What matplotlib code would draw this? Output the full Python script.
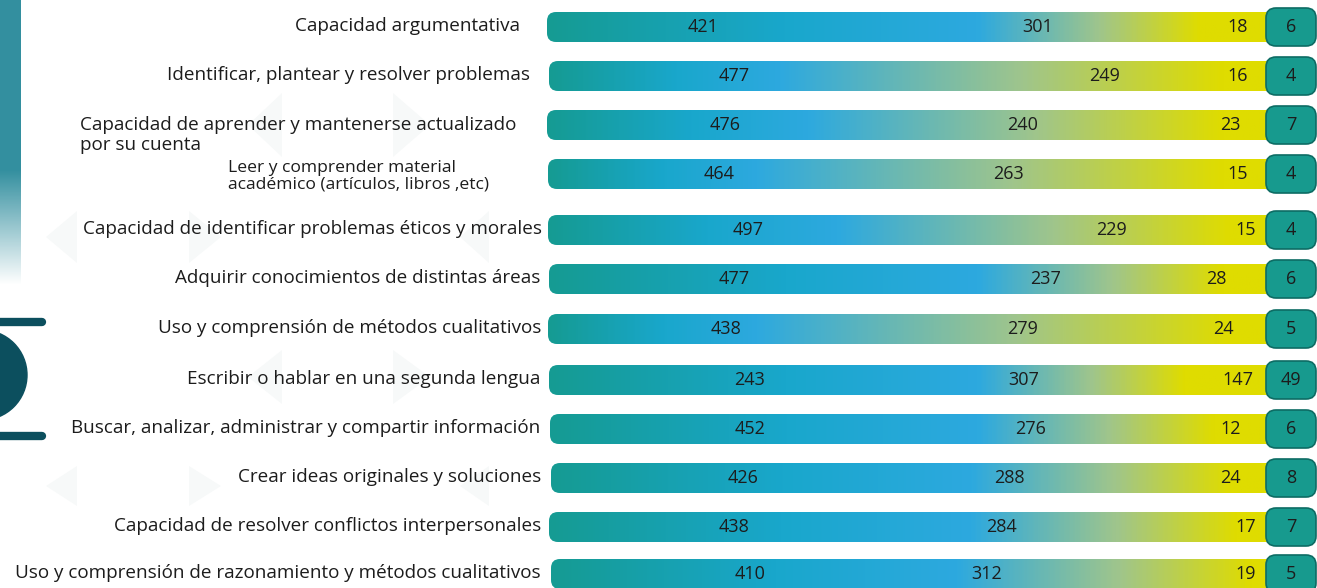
import numpy as np
import matplotlib
matplotlib.use('Agg')
from matplotlib import pyplot as plt
from matplotlib.patches import FancyBboxPatch, Circle, Polygon
from matplotlib.colors import LinearSegmentedColormap, to_rgb

plt.rcParams['font.family'] = ['Open Sans', 'DejaVu Sans']

# data
skills = ['Capacidad argumentativa',
          'Identificar, plantear y resolver problemas',
          'Capacidad de aprender y mantenerse actualizado\npor su cuenta',
          'Leer y comprender material\nacadémico (artículos, libros ,etc)',
          'Capacidad de identificar problemas éticos y morales',
          'Adquirir conocimientos de distintas áreas',
          'Uso y comprensión de métodos cualitativos',
          'Escribir o hablar en una segunda lengua',
          'Buscar, analizar, administrar y compartir información',
          'Crear ideas originales y soluciones',
          'Capacidad de resolver conflictos interpersonales',
          'Uso y comprensión de razonamiento y métodos cualitativos']
level_a = [421, 477, 476, 464, 497, 477, 438, 243, 452, 426, 438, 410]
level_b = [301, 249, 240, 263, 229, 237, 279, 307, 276, 288, 284, 312]
level_c = [18, 16, 23, 15, 15, 28, 24, 147, 12, 24, 17, 19]
level_d = [6, 4, 7, 4, 4, 6, 5, 49, 6, 8, 7, 5]

# layout (pixels)
row_y = [27, 76, 125, 174, 230, 279, 329, 380, 429, 478, 527, 574]
bar_x0 = [547, 549, 547, 548, 548, 549, 548, 549, 550, 551, 549, 551]
bar_x1 = 1290
bar_h = 30
box_x0, box_x1, box_h = 1266, 1316, 38
# where the gradient is bluest / turns yellow, as fraction of the bar
blue_stop = [0.58, 0.31, 0.35, 0.28, 0.39, 0.58, 0.28, 0.58, 0.58, 0.57, 0.57, 0.55]
yellow_stop = [0.88, 0.91, 0.91, 0.91, 0.92, 0.91, 0.92, 0.86, 0.90, 0.92, 0.93, 0.95]
# label positions as fraction of the bar
pos_a = [0.21, 0.25, 0.24, 0.23, 0.27, 0.25, 0.24, 0.27, 0.27, 0.26, 0.25, 0.27]
pos_b = [0.66, 0.75, 0.64, 0.62, 0.76, 0.67, 0.64, 0.64, 0.65, 0.62, 0.61, 0.59]
pos_c = [0.93, 0.93, 0.92, 0.93, 0.94, 0.90, 0.91, 0.93, 0.92, 0.92, 0.94, 0.94]
label_right = [520, 530, 541, 541, 542, 540, 541, 540, 540, 541, 541, 541]

teal = '#159b93'
cyan = '#19a7cc'
blue = '#2da9df'
green = '#9fc58c'
yellow = '#dfdc00'
ink = '#1c1c1c'
dark = '#0c4f5e'

fig = plt.figure(figsize=(13.17, 5.88), dpi=100)
ax = fig.add_axes([0, 0, 1, 1])
ax.set_xlim(0, 1317)
ax.set_ylim(588, 0)
ax.axis('off')

# faint background triangles
def triangle(x0, x1, y0, y1, left=True):
    ym = (y0 + y1) / 2
    if left:
        pts = [(x1, y0), (x1, y1), (x0, ym)]
    else:
        pts = [(x0, y0), (x0, y1), (x1, ym)]
    ax.add_patch(Polygon(pts, closed=True, facecolor='#f7f9f9', edgecolor='none', zorder=0))

for yy0, yy1 in [(211, 263), (466, 506)]:
    triangle(46, 77, yy0, yy1, True)
    triangle(189, 221, yy0, yy1, False)
    triangle(460, 489, yy0, yy1, True)
for yy0, yy1 in [(93, 157), (350, 404)]:
    triangle(248, 282, yy0, yy1, True)
    triangle(393, 430, yy0, yy1, False)

# decorations on the left
fade = np.ones((300, 1, 4))
fade[:, 0, :3] = to_rgb('#338f9f')
alpha = np.ones(300)
alpha[170:285] = np.linspace(1, 0, 115)
alpha[285:] = 0
fade[:, 0, 3] = alpha
ax.imshow(fade, extent=(0, 21, 300, 0), aspect='auto', zorder=1)
ax.add_patch(Circle((-18, 375), 45, color=dark, zorder=2))
ax.plot([0, 42], [322, 322], color=dark, lw=6, solid_capstyle='round', zorder=2)
ax.plot([0, 42], [436, 436], color=dark, lw=6, solid_capstyle='round', zorder=2)

grad = np.linspace(0, 1, 400).reshape(1, -1)

for i in range(len(skills)):
    y = row_y[i]
    x0 = bar_x0[i]
    w = bar_x1 - x0
    b = blue_stop[i]
    ys = yellow_stop[i]
    cmap = LinearSegmentedColormap.from_list(
        'g%d' % i,
        [(0, teal), (b * 0.55, cyan), (b, blue), (b + (ys - b) * 0.55, green), (ys, yellow), (1, yellow)])
    im = ax.imshow(grad, cmap=cmap, extent=(x0, bar_x1, y + bar_h / 2, y - bar_h / 2),
                   aspect='auto', zorder=3)
    clip = FancyBboxPatch((x0, y - bar_h / 2), w, bar_h,
                          boxstyle='round,pad=0,rounding_size=9',
                          transform=ax.transData, facecolor='none', edgecolor='none')
    ax.add_patch(clip)
    im.set_clip_path(clip)

    for val, pos in [(level_a[i], pos_a[i]), (level_b[i], pos_b[i]), (level_c[i], pos_c[i])]:
        ax.text(x0 + w * pos, y, str(val), fontsize=13, color=ink,
                ha='center', va='center', zorder=5)

    ax.add_patch(FancyBboxPatch((box_x0, y - box_h / 2), box_x1 - box_x0, box_h,
                                boxstyle='round,pad=0,rounding_size=10',
                                facecolor='#179a8e', edgecolor='#0d6c64', lw=1.2, zorder=4))
    ax.text((box_x0 + box_x1) / 2, y, str(level_d[i]), fontsize=13, color=ink,
            ha='center', va='center', zorder=5)

    if i == 2:
        ax.text(80, y + 10, skills[i], fontsize=13.6, color=ink,
                ha='left', va='center', linespacing=1.1)
    elif i == 3:
        ax.text(228, y + 2, skills[i], fontsize=12.6, color=ink,
                ha='left', va='center', linespacing=1.05)
    else:
        ax.text(label_right[i], y - 1, skills[i], fontsize=13.55, color=ink,
                ha='right', va='center')

fig.savefig('out.png', dpi=100)
